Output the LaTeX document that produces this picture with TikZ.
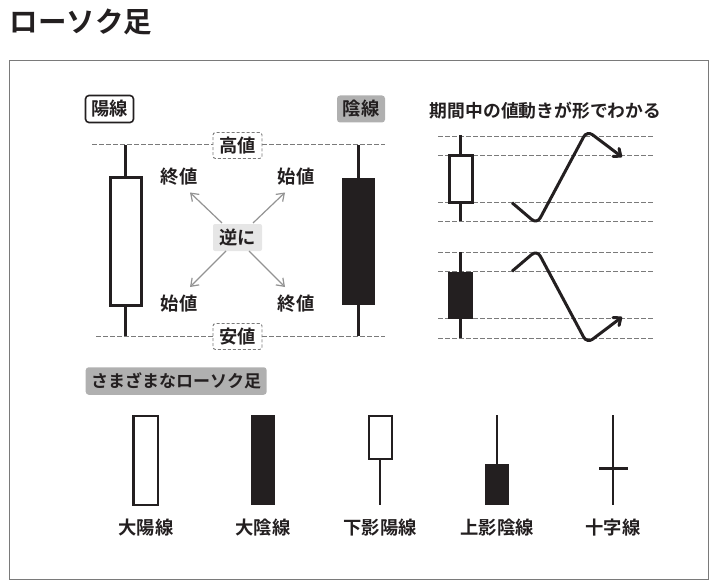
\documentclass[tikz,border=0pt]{standalone}
\usepackage{fontspec}
\setmainfont{Noto Sans CJK JP}[BoldFont={Noto Sans CJK JP Bold}]
\usetikzlibrary{arrows.meta}
\definecolor{ink}{HTML}{231F20}
\definecolor{midgrey}{HTML}{B0B0B0}
\definecolor{palegrey}{HTML}{E6E6E6}
\definecolor{dashgrey}{HTML}{7A7A7A}
\newcommand{\tx}[1]{\raisebox{-0.8pt}{#1}}
\tikzset{
 lab/.style={font=\bfseries\fontsize{18.3}{20}\selectfont,text=ink,inner sep=0pt},
 level/.style={draw=dashgrey,line width=1pt,dash pattern=on 4.5pt off 2.5pt},
 tagbox/.style={lab,rounded corners=2.5pt,minimum width=49pt,minimum height=26pt},
 wick/.style={draw=ink,line width=3pt},
 wickthin/.style={draw=ink,line width=2.6pt},
 hollow/.style={draw=ink,line width=3pt,fill=white},
 solid/.style={fill=ink},
 xarrow/.style={draw=gray!85,line width=1.2pt,-{Straight Barb[length=7pt,width=10pt]}},
 move/.style={draw=ink,line width=3pt,rounded corners=7pt,-{Straight Barb[length=6pt,width=10pt,round]}},
}
\begin{document}
\begin{tikzpicture}[x=1pt,y=-1pt]
\useasboundingbox (0,0) rectangle (719,585);
\node[font=\bfseries\fontsize{28.5}{30}\selectfont,text=ink,anchor=west,inner sep=0pt] (title) at (9.5,22) {ローソク足};
\draw[draw=dashgrey,line width=1pt] (9.5,60.5) rectangle (708.5,579);
% levels
\node[tagbox,draw=dashgrey,line width=.9pt,dash pattern=on 3pt off 2pt] (high) at (237.5,145.5) {\tx{高値}};
\node[tagbox,draw=dashgrey,line width=.9pt,dash pattern=on 3pt off 2pt] (low) at (237.5,336.5) {\tx{安値}};
\coordinate (hl) at (92,145); \coordinate (hr) at (385,145);
\coordinate (ll) at (96,336); \coordinate (lr) at (385,336);
\draw[level] (hl) -- (high.west |- hl);
\draw[level] (high.east |- hr) -- (hr);
\draw[level] (ll) -- (low.west |- ll);
\draw[level] (low.east |- lr) -- (lr);
% headings
\node[lab,draw=ink,line width=1.6pt,rounded corners=3.5pt,minimum width=48pt,minimum height=27pt] (yang) at (109.5,109) {\tx{陽線}};
\node[lab,fill=midgrey,rounded corners=3pt,minimum width=48pt,minimum height=27pt] (yin) at (361,109) {\tx{陰線}};
% big candles
\coordinate (w1) at (125.5,145); \coordinate (w2) at (125.5,336);
\draw[wick] (w1) -- (w2);
\draw[hollow] (110,178) rectangle (141,305);
\coordinate (b1) at (358,145); \coordinate (b2) at (358,336);
\draw[wick] (b1) -- (b2);
\fill[solid] (341.5,178) rectangle (375,305);
% centre
\node[lab,fill=palegrey,rounded corners=2pt,minimum width=49pt,minimum height=27pt] (rev) at (237.5,237.5) {\tx{逆に}};
\node[lab] (a) at (179,176.8) {終値};
\node[lab] (b) at (296,176.8) {始値};
\node[lab] (c) at (179,303.8) {始値};
\node[lab] (d) at (296,303.8) {終値};
\coordinate (ra) at (222,223); \coordinate (rb) at (253,223);
\coordinate (rc) at (226,251); \coordinate (rd) at (249,251);
\coordinate (ea) at (190,192.5); \coordinate (eb) at (285,192.5);
\coordinate (ec) at (190,287); \coordinate (ed) at (285,287);
\draw[xarrow] (ra) -- (ea);
\draw[xarrow] (rb) -- (eb);
\draw[xarrow] (rc) -- (ec);
\draw[xarrow] (rd) -- (ed);
% right panel
\node[lab,font=\bfseries\fontsize{17.8}{18}\selectfont] (ptitle) at (545.5,110.5) {期間中の値動きが形でわかる};
\foreach \y in {136.5,155.5,202.5,221.5,252.5,271.5,318.5,338}
  \draw[level] (438,\y) -- (653,\y);
\draw[wick] (460,135) -- (460,221);
\draw[hollow] (449,155.5) rectangle (472,202.5);
\draw[wick] (460,252) -- (460,338);
\fill[solid] (448,271.5) rectangle (472.5,318.5);
\draw[move] (512,202.7) -- (537,224) -- (587,130.6) -- (622,157);
\draw[move] (512,271.3) -- (537,250) -- (587,343.4) -- (622,317);
% variety
\node[lab,fill=midgrey,rounded corners=3pt,minimum width=181pt,minimum height=27.5pt,font=\bfseries\fontsize{17}{18}\selectfont] (var) at (176.2,381) {\tx{さまざまなローソク足}};
\draw[hollow,line width=2.6pt] (133.5,416) rectangle (158,505);
\fill[solid] (251,415) rectangle (275,505);
\draw[wickthin] (380,459) -- (380,505);
\draw[hollow,line width=2.6pt] (369,416) rectangle (392,459);
\draw[wickthin] (497,415) -- (497,465);
\fill[solid] (485,464) rectangle (509,505);
\draw[wickthin] (613,415) -- (613,505);
\draw[wick] (599,468) -- (628,468);
\node[lab] (v1) at (146,527.6) {大陽線};
\node[lab] (v2) at (263,527.6) {大陰線};
\node[lab] (v3) at (380,527.6) {下影陽線};
\node[lab] (v4) at (497,527.6) {上影陰線};
\node[lab] (v5) at (613,527.6) {十字線};
\end{tikzpicture}
\end{document}
